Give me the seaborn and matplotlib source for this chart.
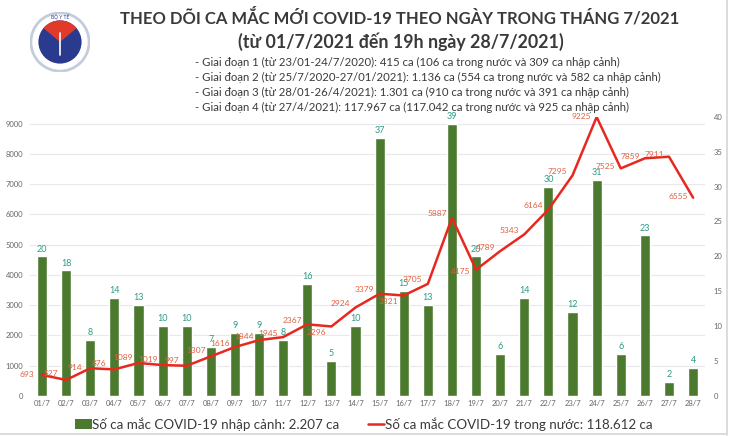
import matplotlib
matplotlib.use("Agg")
import matplotlib.pyplot as plt
import seaborn as sns
import pandas as pd
from matplotlib.patches import Circle, Wedge, Patch
from matplotlib.lines import Line2D

# ---------------- data ----------------
dates = ["01/7", "02/7", "03/7", "04/7", "05/7", "06/7", "07/7", "08/7", "09/7", "10/7",
         "11/7", "12/7", "13/7", "14/7", "15/7", "16/7", "17/7", "18/7", "19/7", "20/7",
         "21/7", "22/7", "23/7", "24/7", "25/7", "26/7", "27/7", "28/7"]
imported = [20, 18, 8, 14, 13, 10, 10, 7, 9, 9, 8, 16, 5, 10, 37, 15, 13, 39, 20, 6,
            14, 30, 12, 31, 6, 23, 2, 4]
domestic = [693, 527, 914, 876, 1089, 1019, 997, 1307, 1616, 1844, 1945, 2367, 2296, 2924,
            3379, 3321, 3705, 5887, 4175, 4789, 5343, 6164, 7295, 9225, 7525, 7859, 7911, 6555]
left_ticks = [0, 1000, 2000, 3000, 4000, 5000, 6000, 7000, 8000, 9000]
right_ticks = [0, 5, 10, 15, 20, 25, 30, 35, 40]

title = "THEO DÕI CA MẮC MỚI COVID-19 THEO NGÀY TRONG THÁNG 7/2021"
subtitle = "(từ 01/7/2021 đến 19h ngày 28/7/2021)"
notes = [
    "- Giai đoạn 1 (từ 23/01-24/7/2020): 415 ca (106 ca trong nước và 309 ca nhập cảnh)",
    "- Giai đoạn 2 (từ 25/7/2020-27/01/2021): 1.136 ca (554 ca trong nước và 582 ca nhập cảnh)",
    "- Giai đoạn 3 (từ 28/01-26/4/2021): 1.301 ca (910 ca trong nước và 391 ca nhập cảnh)",
    "- Giai đoạn 4 (từ 27/4/2021): 117.967 ca (117.042 ca trong nước và 925 ca nhập cảnh)",
]
legend_bar = "Số ca mắc COVID-19 nhập cảnh: 2.207 ca"
legend_line = "Số ca mắc COVID-19 trong nước: 118.612 ca"

# ---------------- style ----------------
sns.set_theme(style="white")
plt.rcParams["font.family"] = ["Lato", "DejaVu Sans"]

BAR_C = "#4b7a2f"
LINE_C = "#e8281e"
BARLAB_C = "#2f9a86"
LINELAB_C = "#e2603f"
TXT_C = "#3a3a3a"
TICK_C = "#666666"
LEFT_MAX = 9230

df = pd.DataFrame({"date": dates, "imported": imported,
                   "domestic": domestic, "pos": list(range(len(dates)))})

fig = plt.figure(figsize=(7.3, 4.36), dpi=100)
ax_bar = fig.add_axes([0.041, 0.092, 0.925, 0.64])

# gridlines (in left-axis units, converted to bar axis)
for v in left_ticks[1:]:
    ax_bar.axhline(v / LEFT_MAX * 40, color="#e8e8ec", lw=0.8, zorder=0)

sns.barplot(data=df, x="date", y="imported", color=BAR_C, saturation=1,
            width=0.42, ax=ax_bar, zorder=2)
ax_bar.set_ylim(0, 40)
ax_bar.set_xlim(-0.5, len(dates) - 0.5)
ax_bar.bar_label(ax_bar.containers[0], color=BARLAB_C, fontsize=6.5, padding=2)

ax_line = ax_bar.twinx()
sns.lineplot(data=df, x="pos", y="domestic", color=LINE_C, lw=1.8, ax=ax_line, sort=False)
ax_line.set_ylim(0, LEFT_MAX)
ax_line.set_xlim(-0.5, len(dates) - 0.5)

# vertical label offsets (pixels) for the red line values
dys = [0, 6, 1, 6, 5, 6, 5, 6, 4, 4, 4, 4, -6, 4, 4, -6, 4, 4, -2, 4,
       4, 4, 4, 0, 2, 2, 2, 1]
for i, v in enumerate(domestic):
    ax_line.annotate(str(v), (i, v), xytext=(-15, dys[i]), textcoords="offset pixels",
                     ha="center", va="center", fontsize=6, color=LINELAB_C)

# axes cosmetics: line axis ticks on the left, bar axis on the right
ax_line.yaxis.tick_left()
ax_bar.yaxis.tick_right()
ax_line.set_yticks(left_ticks)
ax_bar.set_yticks(right_ticks)
for a in (ax_bar, ax_line):
    for s in a.spines.values():
        s.set_visible(False)
    a.set_xlabel("")
    a.set_ylabel("")
    a.tick_params(length=0, labelsize=5.5, colors=TICK_C, pad=4)
ax_line.tick_params(axis="y", pad=5)
ax_bar.tick_params(axis="y", pad=6)
ax_bar.tick_params(axis="x", pad=3)

# ---------------- header ----------------
fig.text(0.548, 1 - 17 / 436, title, ha="center", va="center", fontsize=12.0,
         fontweight="bold", color=TXT_C)
fig.text(0.549, 1 - 42 / 436, subtitle, ha="center", va="center", fontsize=12.8,
         fontweight="bold", color=TXT_C)
for k, line in enumerate(notes):
    fig.text(195 / 730, 1 - (62.3 + 15 * k) / 436, line, ha="left", va="center",
             fontsize=8.2, color=TXT_C)

# logo
lax = fig.add_axes([30 / 730, 1 - 72 / 436, 60 / 730, 60 / 436])
lax.set_xlim(-1, 1)
lax.set_ylim(-1, 1)
lax.set_aspect("equal")
lax.axis("off")
lax.add_patch(Circle((0, 0), 0.97, facecolor="white", edgecolor="#c3cddc", lw=2.0))
lax.add_patch(Circle((0, 0), 0.72, facecolor="#2a3b8f", edgecolor="none"))
lax.add_patch(Wedge((0, 0), 0.72, 40, 140, facecolor="#e23a2a", edgecolor="none"))
lax.plot([0, 0], [-0.45, 0.3], color="white", lw=1.2)
lax.text(0, 0.84, "BỘ Y TẾ", ha="center", va="center", fontsize=3.5, color="#2a3b8f")

# ---------------- legend ----------------
handles = [Patch(facecolor=BAR_C, edgecolor="none"),
           Line2D([0], [0], color=LINE_C, lw=1.8)]
leg = fig.legend(handles, [legend_bar, legend_line], loc="center left",
                 bbox_to_anchor=(75 / 730, 1 - 424 / 436), ncol=2, frameon=False,
                 handlelength=1.25, handleheight=0.85, handletextpad=0.05,
                 columnspacing=2.1, borderpad=0, borderaxespad=0,
                 prop={"family": ["Lato", "DejaVu Sans"], "size": 9.6})
for t in leg.get_texts():
    t.set_color(TXT_C)

# light frame on the right and bottom edges
fig.add_artist(Line2D([727 / 730, 727 / 730], [1 / 436, 1], color="#d6d6d6", lw=1.2,
                      transform=fig.transFigure))
fig.add_artist(Line2D([0, 727 / 730], [2.5 / 436, 2.5 / 436], color="#d6d6d6", lw=1.2,
                      transform=fig.transFigure))

fig.savefig("out.png", dpi=100)
